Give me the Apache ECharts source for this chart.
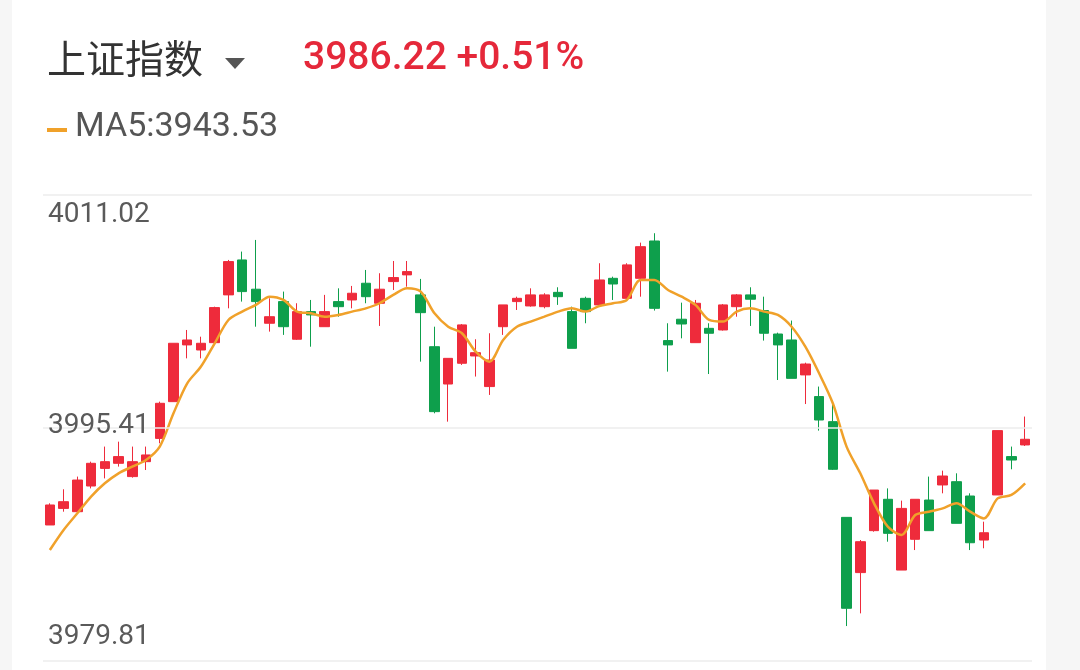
<!DOCTYPE html>
<html><head><meta charset="utf-8">
<script src="https://cdn.jsdelivr.net/npm/echarts@6/dist/echarts.min.js"></script>
<style>html,body{margin:0;padding:0;background:#fff}#c{width:1080px;height:670px}</style>
</head><body><div id="c"></div>
<script>
// [open, close, low, high]
const candles = [
[3988.92,3990.26,3988.92,3990.37],[3990.03,3990.48,3989.81,3991.31],[3989.81,3991.93,3989.70,3992.16],[3991.53,3993.05,3991.37,3993.16],
[3992.71,3993.16,3992.04,3994.17],[3993.05,3993.50,3992.83,3994.50],[3992.16,3993.16,3992.09,3994.17],[3993.16,3993.61,3992.60,3994.17],
[3994.72,3997.07,3994.39,3997.18],[3997.18,4001.09,3997.18,4001.09],[4000.98,4001.31,4000.08,4001.98],[4000.64,4001.09,4000.08,4001.53],
[4001.13,4003.48,4001.09,4003.54],[4004.33,4006.56,4003.43,4006.67],[4006.67,4004.55,4003.88,4007.23],[4004.71,4003.88,4002.20,4008.01],
[4002.43,4002.87,4001.87,4004.10],[4003.88,4002.20,4001.65,4004.55],[4001.36,4003.21,4001.31,4003.77],[4003.21,4002.99,4000.86,4003.99],
[4002.20,4003.21,4002.20,4004.33],[4003.88,4003.54,4002.87,4004.77],[4003.99,4004.44,4003.43,4004.93],[4005.11,4004.21,4003.77,4006.00],
[4003.77,4004.71,4002.25,4005.78],[4005.22,4005.49,4004.66,4006.60],[4005.67,4005.89,4004.88,4006.60],[4004.33,4003.14,3999.86,4005.40],
[4000.86,3996.51,3996.40,4002.20],[3998.36,4000.08,3995.84,4000.08],[3999.75,4002.32,3999.64,4002.38],[4000.24,4000.46,3998.86,4001.36],
[3998.19,3999.97,3997.63,4001.76],[4002.20,4003.66,4001.65,4003.66],[4003.88,4004.10,4003.32,4004.21],[4003.59,4004.33,4003.54,4004.77],
[4003.54,4004.33,4003.43,4004.44],[4004.50,4004.21,4003.66,4004.84],[4003.21,4000.75,4000.75,4003.54],[4004.10,4003.21,4002.43,4004.21],
[4003.66,4005.33,4003.54,4006.45],[4005.44,4005.06,4003.99,4005.55],[4004.10,4006.34,4003.99,4006.45],[4005.44,4007.56,4004.21,4007.83],
[4007.94,4003.43,4003.28,4008.46],[4001.27,4000.98,3999.19,4002.43],[4002.70,4002.38,4001.42,4003.81],[4001.13,4003.77,4001.13,4003.99],
[4002.09,4001.76,3999.03,4002.43],[4001.98,4003.66,4001.94,4003.72],[4003.54,4004.33,4002.87,4004.39],[4004.33,4004.04,4002.25,4004.84],
[4003.28,4001.76,4001.27,4004.21],[4001.71,4000.98,3998.63,4001.80],[4001.31,3998.74,3998.74,4002.61],[3998.97,3999.70,3997.02,3999.79],
[3997.52,3995.95,3995.24,3998.19],[3995.84,3992.65,3992.60,3997.02],[3989.43,3983.34,3982.15,3989.43],[3985.73,3987.80,3983.00,3987.91],
[3988.54,3991.26,3988.47,3991.26],[3990.64,3988.36,3987.80,3991.37],[3985.90,3990.03,3985.90,3990.55],[3987.96,3990.64,3987.24,3990.64],
[3990.59,3988.54,3988.54,3992.16],[3991.60,3992.20,3991.04,3992.56],[3991.82,3989.03,3989.03,3992.38],[3990.86,3987.73,3987.24,3991.04],
[3987.91,3988.40,3987.36,3989.14],[3990.93,3995.24,3990.93,3995.24],[3993.50,3993.27,3992.65,3994.17],[3994.28,3994.66,3994.21,3996.18]
];
const ma5 = [3987.24,3988.58,3989.70,3990.82,3991.71,3992.38,3992.83,3993.27,3994.17,3996.40,3998.41,3999.53,4001.09,4002.65,4003.21,4003.66,
4004.21,4003.99,4003.21,4003.10,4002.87,4002.99,4003.21,4003.43,4003.77,4004.33,4004.77,4004.55,4003.10,4002.20,4001.76,4000.53,
3999.86,4001.31,4002.20,4002.54,4002.87,4003.21,4003.43,4003.21,4003.59,4003.77,4003.99,4005.33,4005.33,4004.66,4004.21,4003.66,
4002.65,4002.54,4003.21,4003.43,4003.21,4002.99,4002.20,4000.86,3999.08,3997.07,3994.17,3992.38,3990.37,3988.81,3988.25,3989.59,
3989.81,3990.03,3990.37,3989.81,3989.36,3990.70,3990.93,3991.71];
const categories = candles.map((_, i) => String(i + 1));
const yTicks = [3979.81, 3995.41, 4011.02];

const chart = echarts.init(document.getElementById('c'));
chart.setOption({
  backgroundColor: '#fff',
  animation: false,
  grid: { left: 43, right: 48, top: 195, bottom: 9 },
  xAxis: { type: 'category', data: categories, boundaryGap: true,
    axisLine: { show: false }, axisTick: { show: false }, axisLabel: { show: false }, splitLine: { show: false } },
  yAxis: { type: 'value', min: yTicks[0], max: yTicks[2], interval: (yTicks[2] - yTicks[0]) / 2,
    axisLine: { show: false }, axisTick: { show: false },
    splitLine: { lineStyle: { color: '#ececec', width: 1.5 } },
    axisLabel: { inside: true, color: '#5a5a5a', fontSize: 28, fontFamily: 'Roboto, Noto Sans, sans-serif',
      margin: 5, verticalAlignMaxLabel: 'top', verticalAlignMinLabel: 'bottom',
      rich: {}, padding: [6, 0, 10, 0],
      formatter: v => { let best = yTicks[0]; yTicks.forEach(t => { if (Math.abs(t - v) < Math.abs(best - v)) best = t; }); return best.toFixed(2); } },
    z: 5 },
  series: [
    { type: 'candlestick', data: candles, barWidth: 10,
      itemStyle: { color: '#EE2B3B', color0: '#0E9F4C', borderColor: '#EE2B3B', borderColor0: '#0E9F4C', borderWidth: 1 } },
    { type: 'line', data: ma5, smooth: 0.3, symbol: 'none', lineStyle: { color: '#F0A12A', width: 2.5 }, z: 3 }
  ],
  graphic: [
    { type: 'rect', shape: { x: 1046, y: 0, width: 34, height: 670 }, style: { fill: '#f6f6f6' } },
    { type: 'rect', shape: { x: 0, y: 0, width: 12, height: 670 }, style: { fill: '#f6f6f6' } },
    { type: 'text', left: 47, top: 39, style: { text: '上证指数', fill: '#333', font: '39px "Noto Sans CJK SC"' } },
    { type: 'polygon', shape: { points: [[225, 58], [245, 58], [235, 69]] }, style: { fill: '#555' } },
    { type: 'text', left: 303, top: 40, style: { text: '3986.22 +0.51%', fill: '#E5283A', font: '500 39px Roboto, sans-serif' } },
    { type: 'rect', shape: { x: 47, y: 128, width: 20, height: 4 }, style: { fill: '#F0A12A' } },
    { type: 'text', left: 75, top: 110, style: { text: 'MA5:3943.53', fill: '#555', font: '34px Roboto, sans-serif' } }
  ]
});
</script></body></html>
